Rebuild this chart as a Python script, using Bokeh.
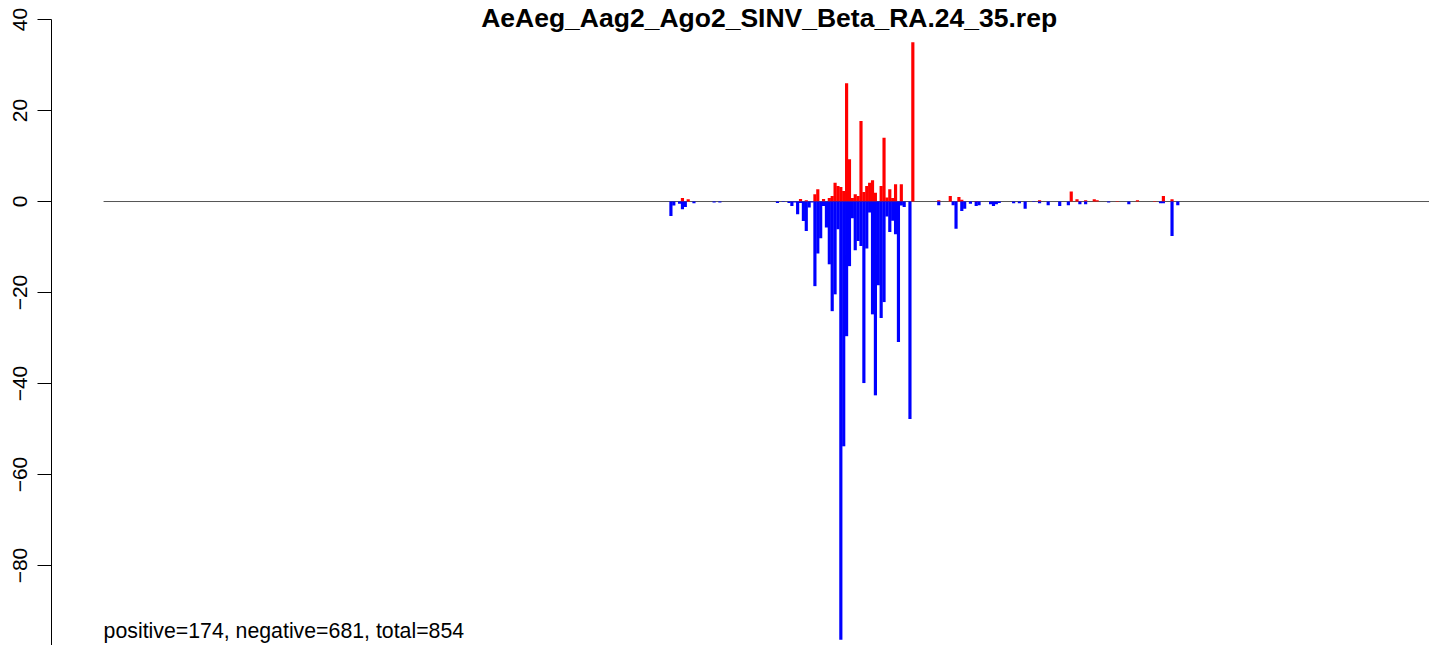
from bokeh.plotting import figure
from bokeh.models import Range1d, FixedTicker
from bokeh.core.properties import value
from bokeh.embed import file_html
from bokeh.resources import INLINE

title_text = "AeAeg_Aag2_Ago2_SINV_Beta_RA.24_35.rep"
summary_text = "positive=174, negative=681, total=854"

positions = [197, 198, 200, 201, 202, 203, 205, 212, 214, 234, 236, 238, 239, 240,
             241, 242, 243, 244, 245, 246, 247, 248, 249, 250, 251, 252, 253, 254,
             255, 256, 257, 258, 259, 260, 261, 262, 263, 264, 265, 266, 267, 268,
             269, 270, 271, 272, 273, 274, 275, 276, 277, 278, 280, 281, 290, 294,
             295, 296, 297, 298, 299, 301, 303, 304, 308, 309, 310, 311, 316, 318,
             320, 323, 325, 328, 332, 335, 336, 338, 339, 341, 344, 345, 349, 352,
             356, 359, 365, 367, 368, 371, 373]
pos_counts = [0, 0, 0, 0.8, 0, 0.5, 0, 0, 0, 0, 0, 0, 0, 0,
              0, 0.55, 0, 0.3, 0, 0, 1.6, 2.7, 0, 0.55, 0, 0.8, 1.2, 4.1,
              3.4, 3.2, 2.3, 26.0, 9.3, 0.8, 1.6, 1.2, 17.7, 2.1, 3.4, 4.1, 4.7, 1.9,
              0, 3.4, 14.0, 0.9, 2.7, 0.8, 3.8, 0, 3.8, 0, 0, 35.0, 0.3, 1.2,
              0, 0, 1.0, 0.4, 0, 0, 0.1, 0, 0, 0, 0, 0, 0, 0,
              0, 0, 0.3, 0, 0, 0, 2.2, 0.5, 0.1, 0.3, 0.5, 0.3, 0, 0.1,
              0, 0.3, 0.1, 0, 1.2, 0.5, 0]
neg_counts = [-3.2, -0.9, -0.5, -1.7, -1.2, 0, -0.4, -0.2, -0.2, -0.3, -0.1, -0.3, -1.0, -0.2,
              -2.8, -0.3, -4.3, -6.5, -1.3, -0.2, -18.6, -11.4, -8.1, -1.0, -5.7, -13.8, -24.1, -20.4,
              -6.1, -96.3, -53.8, -29.6, -14.2, -3.7, -10.7, -8.7, -9.8, -39.9, -10.3, -2.4, -24.8, -42.6,
              -18.4, -25.6, -22.1, -3.3, -6.7, -4.2, -7.2, -30.9, -0.9, -1.2, -47.8, 0, -0.8, 0,
              -0.8, -6.0, 0, -2.1, -1.6, -0.5, -1.0, -0.8, -0.6, -1.0, -0.6, -0.3, -0.4, -0.4,
              -1.6, -0.1, -0.4, -0.8, -1.0, -0.8, 0, 0, -0.6, -0.6, 0, 0, -0.2, 0,
              -0.6, 0, 0, -0.4, -0.4, -7.6, -0.8]
y_ticks = [-100, -80, -60, -40, -20, 0, 20, 40]
seq_start, seq_end = 0, 480

W, H = 1429, 645
x_lo, x_hi = -18.08, 460.4
y_lo, y_hi = -97.58, 44.18

p = figure(width=W, height=H, output_backend="svg", toolbar_location=None,
           x_range=Range1d(x_lo, x_hi), y_range=Range1d(y_lo, y_hi),
           x_axis_location=None, min_border_left=51, min_border_right=0,
           min_border_top=0, min_border_bottom=0)
p.outline_line_color = None
p.xgrid.visible = False
p.ygrid.visible = False
p.background_fill_color = "white"
p.border_fill_color = "white"

ax = p.yaxis[0]
ax.ticker = FixedTicker(ticks=y_ticks)
ax.bounds = (-100, 40)
ax.major_tick_out = 14
ax.major_tick_in = 0
ax.minor_tick_line_color = None
ax.axis_line_color = "black"
ax.axis_line_width = 1
ax.major_tick_line_color = "black"
ax.major_label_orientation = "parallel"
ax.major_label_text_font = "Liberation Sans"
ax.major_label_text_font_size = "21px"
ax.major_label_text_color = "black"
ax.major_label_standoff = 10

p.segment(x0=[seq_start], y0=[0], x1=[seq_end], y1=[0], line_color="#555555", line_width=1)

p.vbar(x=positions, top=pos_counts, bottom=0, width=1.1, fill_color="#FF0000", line_color=None)
p.vbar(x=positions, top=0, bottom=neg_counts, width=1.1, fill_color="#0000FF", line_color=None)

p.text(x=[231.1], y=[40.4], text=[title_text], text_font=value("Liberation Sans"),
       text_font_style="bold", text_font_size="26.5px", text_align="center",
       text_baseline="alphabetic", text_color="black")
p.text(x=[seq_start], y=[-94.5], text=[summary_text], text_font=value("Liberation Sans"),
       text_font_size="21.3px", text_align="left", text_baseline="alphabetic", text_color="black")

open("out.html", "w").write(file_html(p, INLINE))
